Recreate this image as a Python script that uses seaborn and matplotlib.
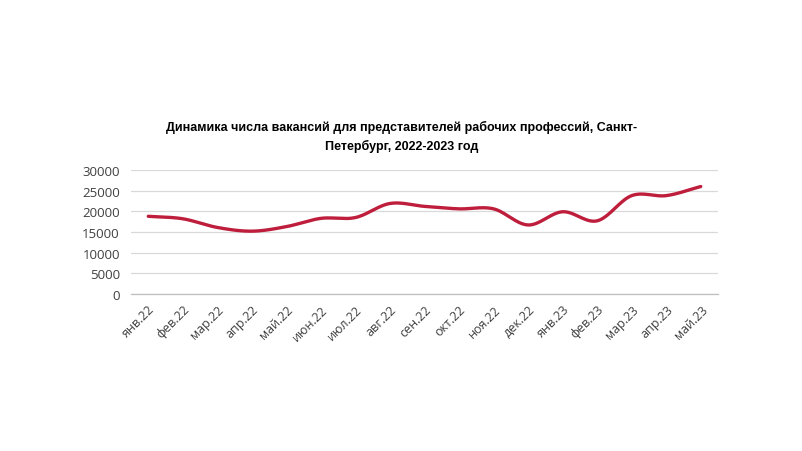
import numpy as np
import pandas as pd
import matplotlib
matplotlib.use("Agg")
import matplotlib.pyplot as plt
import seaborn as sns

months = ["янв.22", "фев.22", "мар.22", "апр.22", "май.22", "июн.22", "июл.22",
          "авг.22", "сен.22", "окт.22", "ноя.22", "дек.22", "янв.23", "фев.23",
          "мар.23", "апр.23", "май.23"]
vacancies = [18800, 18200, 16100, 15200, 16300, 18300, 18500, 21900, 21200,
             20600, 20600, 16700, 19900, 17700, 23800, 23800, 26000]
yticks = [0, 5000, 10000, 15000, 20000, 25000, 30000]
title = "Динамика числа вакансий для представителей рабочих профессий, Санкт-\nПетербург, 2022-2023 год"

sns.set_theme(style="white")
plt.rcParams["font.family"] = ["Open Sans", "DejaVu Sans"]

# smooth rendering of the line (Catmull-Rom, like Excel smoothing)
x = np.arange(len(vacancies), dtype=float)
y = np.array(vacancies, dtype=float)
px = np.concatenate([[x[0] - (x[1] - x[0])], x, [x[-1] + (x[-1] - x[-2])]])
py = np.concatenate([[y[0] - (y[1] - y[0])], y, [y[-1] + (y[-1] - y[-2])]])
xs, ys = [], []
t = np.linspace(0, 1, 30, endpoint=False)
for i in range(1, len(px) - 2):
    p0, p1, p2, p3 = py[i - 1], py[i], py[i + 1], py[i + 2]
    q0, q1, q2, q3 = px[i - 1], px[i], px[i + 1], px[i + 2]
    def cr(a0, a1, a2, a3):
        return 0.5 * ((2 * a1) + (-a0 + a2) * t + (2 * a0 - 5 * a1 + 4 * a2 - a3) * t ** 2
                      + (-a0 + 3 * a1 - 3 * a2 + a3) * t ** 3)
    xs.append(cr(q0, q1, q2, q3))
    ys.append(cr(p0, p1, p2, p3))
xs.append([x[-1]]); ys.append([y[-1]])
smooth = pd.DataFrame({"x": np.concatenate(xs), "y": np.concatenate(ys)})

fig = plt.figure(figsize=(8.03, 4.52), dpi=100)
ax = fig.add_axes([131 / 803, 1 - 295 / 452, (718 - 131) / 803, (295 - 171) / 452])
sns.lineplot(data=smooth, x="x", y="y", ax=ax, color="#BE1E3C", linewidth=2.4,
             sort=False, estimator=None)

ax.set_xlim(-0.5, len(months) - 0.5)
ax.set_ylim(0, 30000)
ax.set_yticks(yticks)
ax.set_yticklabels([str(v) for v in yticks], fontsize=9.5, color="#404040")
ax.set_xticks(x)
ax.set_xticklabels(months, rotation=45, ha="right", rotation_mode="anchor",
                   fontsize=9, color="#404040")
ax.set_xticks(np.arange(-0.5, len(months), 1.0), minor=True)
ax.tick_params(axis="x", which="major", length=0, pad=6)
ax.tick_params(axis="x", which="minor", length=4, color="#bfbfbf", width=0.8)
ax.tick_params(axis="y", length=0, pad=8)
ax.yaxis.grid(True, color="#d9d9d9", linewidth=0.9)
ax.set_axisbelow(True)
for s in ["top", "right", "left"]:
    ax.spines[s].set_visible(False)
ax.spines["bottom"].set_color("#bfbfbf")
ax.spines["bottom"].set_linewidth(0.9)
ax.set_xlabel("")
ax.set_ylabel("")

fig.text(0.5, 1 - 137 / 452, title, ha="center", va="center", fontsize=9,
         fontweight="bold", color="#000000", linespacing=1.6,
         family=["Liberation Sans", "DejaVu Sans"])

fig.savefig("out.png", dpi=100, facecolor="white")
